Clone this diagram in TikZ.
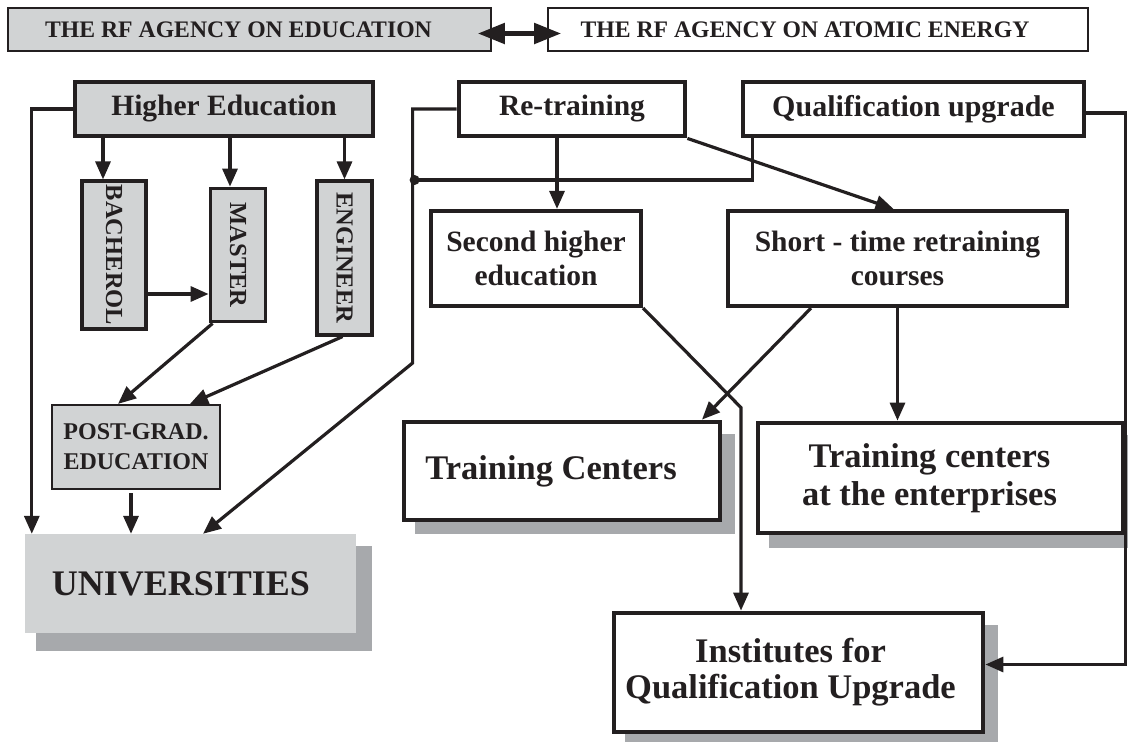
\documentclass[tikz,border=0pt]{standalone}
\usepackage{fontspec}
\setmainfont{Liberation Serif}
\usepackage{graphicx}
\usetikzlibrary{arrows.meta,calc,backgrounds}
\definecolor{boxgray}{HTML}{D1D3D4}
\definecolor{shgray}{HTML}{A7A9AC}
\definecolor{ink}{HTML}{231F20}
\newcommand{\fs}[2]{\fontsize{#1pt}{#2pt}\selectfont\bfseries}
\begin{document}
\begin{tikzpicture}[x=1pt,y=-1pt,
  box/.style={draw=ink, rectangle, inner sep=0pt, align=center, text=ink},
  agency/.style={box, line width=1.6pt, minimum height=43pt, font=\fs{23.7}{28}},
  bigbox/.style={box, fill=white, line width=4.8pt},
  vbox/.style={box, fill=boxgray, font=\fs{24.5}{28}},
  ln/.style={draw=ink, line width=3.2pt},
  arr/.style={ln, -{Triangle[length=18pt,width=15pt]}},
  darr/.style={draw=ink, line width=5pt, {Triangle[length=27pt,width=20pt]}-{Triangle[length=27pt,width=20pt]}},
  shadow/.style={fill=shgray}
]
\useasboundingbox (0,0) rectangle (1128,742);

% agencies
\node[agency, fill=boxgray, minimum width=483pt] (ed) at (249.5,29.5) {\hspace*{-22pt}THE RF AGENCY ON EDUCATION};
\node[agency, fill=white, minimum width=540pt] (atom) at (818,29.5) {\hspace*{-26pt}THE RF AGENCY ON ATOMIC ENERGY};
\draw[darr] ($(ed.east)+(-14,4)$) -- ($(atom.west)+(14,4)$);

% top row
\node[bigbox, fill=boxgray, minimum width=298pt, minimum height=54pt, font=\fs{29.5}{34}] (he) at (224,109) {Higher Education};
\node[bigbox, minimum width=226pt, minimum height=54pt, font=\fs{29.5}{34}] (retr) at (572,109) {Re-training};
\node[bigbox, minimum width=341pt, minimum height=54pt, font=\fs{30}{34}] (qual) at (913.5,109) {Qualification upgrade};

% degrees
\node[vbox, line width=3.2pt, minimum width=64pt, minimum height=148pt] (bach) at (114,255) {\rotatebox{-90}{BACHEROL}};
\node[vbox, line width=3.8pt, minimum width=55pt, minimum height=133pt] (master) at (238,255) {\rotatebox{-90}{MASTER}};
\node[vbox, line width=3.2pt, minimum width=55pt, minimum height=154pt] (eng) at (344.5,258) {\rotatebox{-90}{ENGINEER}};
\node[vbox, line width=2.2pt, minimum width=168pt, minimum height=84pt, font=\fs{24}{30}] (pg) at (136,447) {POST-GRAD.\\EDUCATION};
\node[box, draw=none, fill=boxgray, minimum width=331pt, minimum height=99pt, font=\fs{36}{40}] (univ) at (190.5,583.5) {\hspace*{-19pt}UNIVERSITIES};

% second level right
\node[bigbox, line width=4.2pt, minimum width=210pt, minimum height=95pt, font=\fs{29.5}{34}] (second) at (536,258.5) {Second higher\\education};
\node[bigbox, line width=4.2pt, minimum width=339pt, minimum height=95pt, font=\fs{29.5}{34}] (short) at (897.5,258.5) {Short - time retraining\\courses};

% bottom right
\node[bigbox, minimum width=316pt, minimum height=98pt, font=\fs{34.5}{38}] (tc) at (562,471) {\hspace*{-22pt}Training Centers};
\node[bigbox, minimum width=365pt, minimum height=110pt, font=\fs{34.5}{38}] (tce) at (940.5,478) {\hspace*{-22pt}Training centers\\\hspace*{-22pt}at the enterprises};
\node[bigbox, minimum width=369pt, minimum height=119pt, font=\fs{34.5}{36}] (inst) at (798.5,672.5) {\hspace*{-16pt}Institutes for\\\hspace*{-16pt}Qualification Upgrade};

% shadows
\begin{scope}[on background layer]
  \fill[shadow] ($(univ.north west)+(11,12)$) rectangle ($(univ.south east)+(16,18)$);
  \fill[shadow] ($(tc.north west)+(13,14)$) rectangle ($(tc.south east)+(13,12)$);
  \fill[shadow] ($(tce.north west)+(13,14)$) rectangle ($(tce.south east)+(13,13)$);
  \fill[shadow] ($(inst.north west)+(13,14)$) rectangle ($(inst.south east)+(13,13)$);
\end{scope}

% higher education connectors
\draw[arr] (he.west) -| ($(univ.north west)+(7,0)$);
\coordinate (bt) at ($(bach.north)+(-11,0)$);
\coordinate (mt) at ($(master.north)+(-8,0)$);
\draw[arr] (he.south -| bt) -- (bt);
\draw[arr] (he.south -| mt) -- (mt);
\draw[arr] (he.south -| eng.north) -- (eng.north);
\draw[arr] ($(bach.east)+(0,39)$) -- ($(master.west)+(0,39)$);
\draw[arr] ($(master.south west)+(4,0)$) -- ($(pg.north)+(-18,0)$);
\draw[arr] ($(eng.south)+(-2,0)$) -- ($(pg.north)+(54,0)$);
\draw[arr] ($(pg.south)+(-5,3)$) -- ($(pg.south |- univ.north)+(-5,0)$);

% re-training connectors
\coordinate (rbend) at ($(retr.west)+(-44,254)$);
\draw[arr] (retr.west) -| (rbend) -- ($(univ.north)+(12.5,0)$);
\coordinate (dotp) at ($(retr.west)+(-42,71)$);
\draw[ln] ($(qual.south west)+(12,0)$) |- (dotp);
\fill[ink] (dotp) circle (5pt);
\coordinate (st) at ($(retr.south)+(-15,0)$);
\draw[arr] (st) -- (st |- second.north);
\draw[arr] (retr.south east) -- ($(short.north)+(-4,0)$);

% second higher to institutes
\draw[arr] (second.south east) -- ($(inst.north)+(-57.5,-203)$) -- ($(inst.north)+(-57.5,0)$);

% short-time connectors
\draw[arr] ($(short.south)+(-86.5,0)$) -- ($(tc.north)+(140,0)$);
\draw[arr] (short.south) -- (short.south |- tce.north);

% qualification upgrade to institutes
\draw[arr] ($(qual.east)+(0,4)$) -- ++(39,0) |- ($(inst.east)+(0,-8)$);
\end{tikzpicture}
\end{document}
